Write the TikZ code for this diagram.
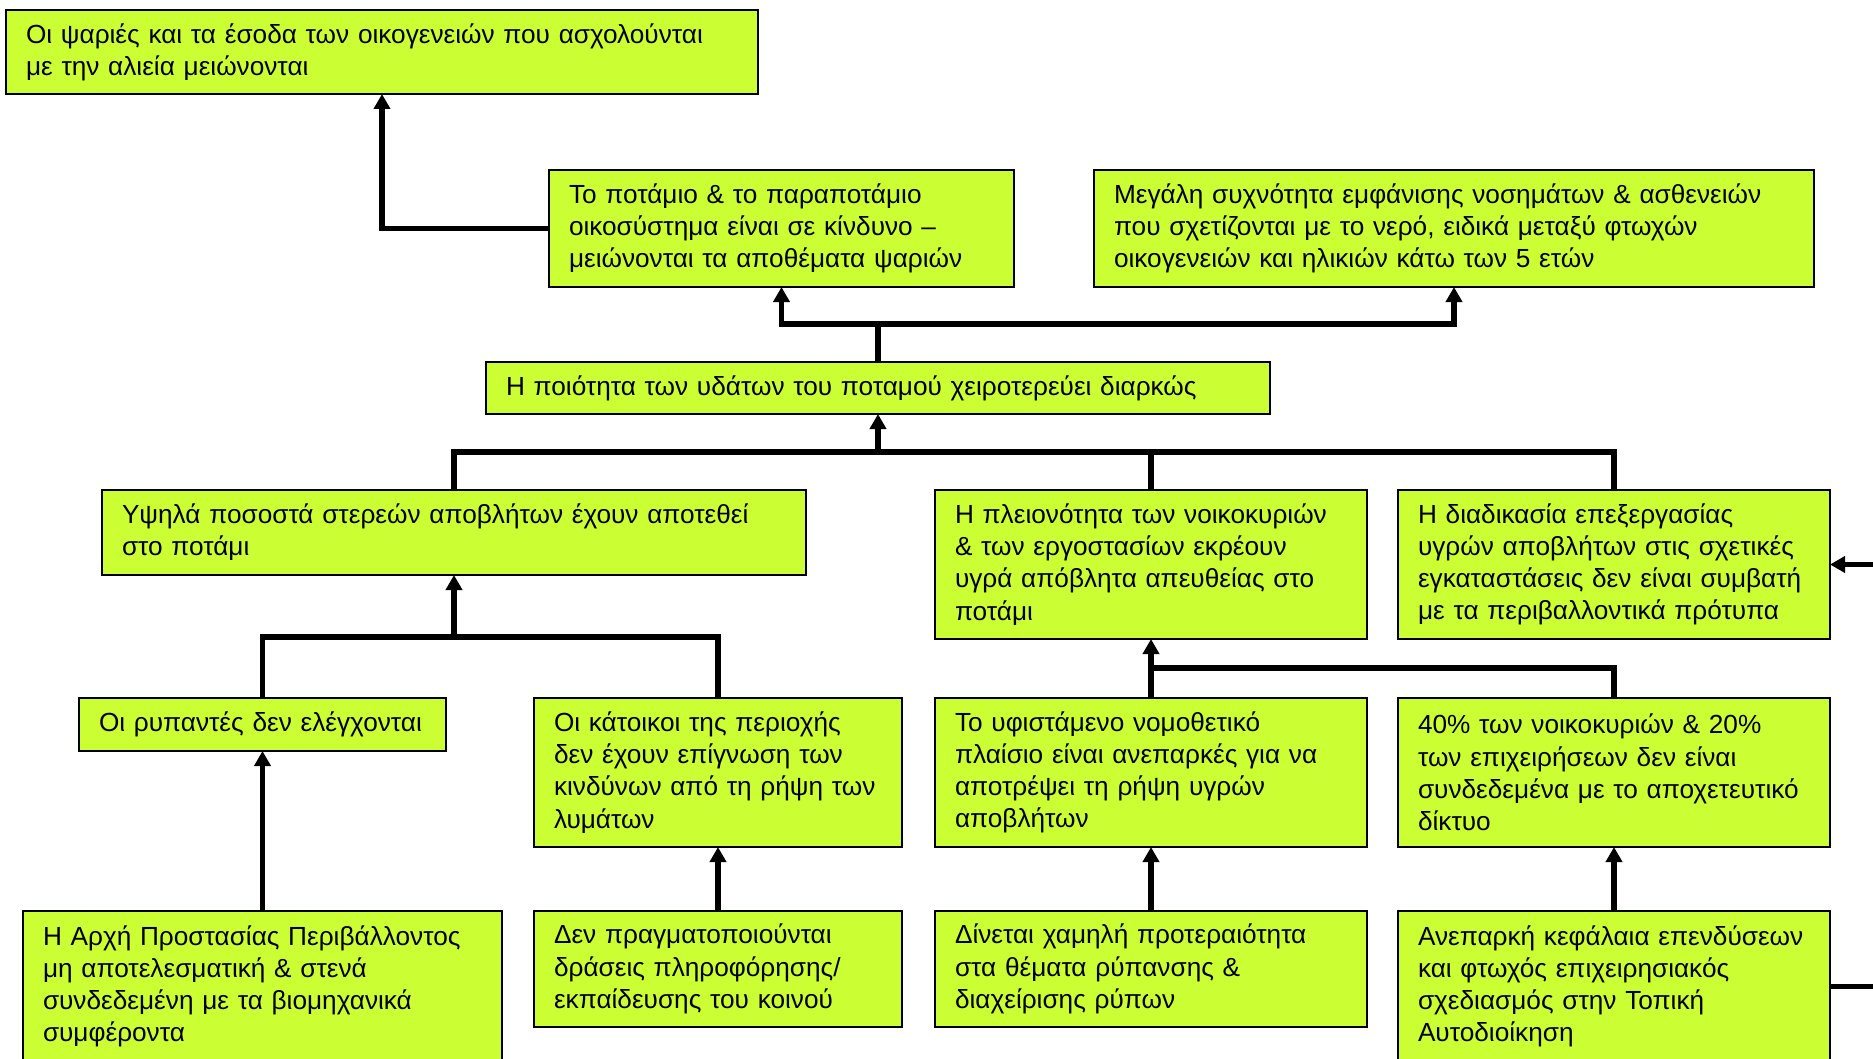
\documentclass[tikz,border=0pt]{standalone}
\usepackage{fontspec}
\setmainfont{Liberation Sans}
\usetikzlibrary{arrows.meta}
\definecolor{boxLime}{RGB}{204,255,51}

\begin{document}
\begin{tikzpicture}[x=0.5pt,y=-0.5pt,>={Triangle[length=7.5pt,width=8pt]},
    font=\fontsize{13.1pt}{16.1pt}\selectfont,
    box/.style={draw,line width=1.3pt,fill=boxLime,anchor=north west,outer sep=0pt,
        inner xsep=10pt,inner ysep=0pt,align=left},
    link/.style={line width=2.6pt}]
    \useasboundingbox[fill=white] (0,0) rectangle (1873,1059);
    % top row
    \node[box,minimum width=376pt,minimum height=42pt,text width=356pt] (fishIncome) at (6,10)
        {Οι ψαριές και τα έσοδα των οικογενειών που ασχολούνται\\με την αλιεία μειώνονται};
    \node[box,minimum width=232.5pt,minimum height=58.5pt,text width=212.5pt] (riverRisk) at (549,170)
        {Το ποτάμιο \& το παραποτάμιο\\οικοσύστημα είναι σε κίνδυνο –\\μειώνονται τα αποθέματα ψαριών};
    \node[box,minimum width=360pt,minimum height=58.5pt,text width=340pt] (diseases) at (1094,170)
        {Μεγάλη συχνότητα εμφάνισης νοσημάτων \& ασθενειών\\που σχετίζονται με το νερό, ειδικά μεταξύ φτωχών\\οικογενειών και ηλικιών κάτω των 5 ετών};
    \node[box,minimum width=392pt,minimum height=26pt,text width=372pt] (waterQuality) at (486,362)
        {Η ποιότητα των υδάτων του ποταμού χειροτερεύει διαρκώς};
    % causes
    \node[box,minimum width=352pt,minimum height=42.5pt,text width=332pt] (solidWaste) at (102,490)
        {Υψηλά ποσοστά στερεών αποβλήτων έχουν αποτεθεί\\στο ποτάμι};
    \node[box,minimum width=216pt,minimum height=74.5pt,text width=196pt] (sewageFlow) at (935,490)
        {Η πλειονότητα των νοικοκυριών\\\& των εργοστασίων εκρέουν\\υγρά απόβλητα απευθείας στο\\ποτάμι};
    \node[box,minimum width=216pt,minimum height=74.5pt,text width=196pt] (treatment) at (1398,490)
        {Η διαδικασία επεξεργασίας\\υγρών αποβλήτων στις σχετικές\\εγκαταστάσεις δεν είναι συμβατή\\με τα περιβαλλοντικά πρότυπα};
    \node[box,minimum width=183.5pt,minimum height=26.5pt,text width=163.5pt] (noControl) at (79,698)
        {Οι ρυπαντές δεν ελέγχονται};
    \node[box,minimum width=184pt,minimum height=74.5pt,text width=164pt] (residents) at (534,698)
        {Οι κάτοικοι της περιοχής\\δεν έχουν επίγνωση των\\κινδύνων από τη ρήψη των\\λυμάτων};
    \node[box,minimum width=216pt,minimum height=74.5pt,text width=196pt] (lawFrame) at (935,698)
        {Το υφιστάμενο νομοθετικό\\πλαίσιο είναι ανεπαρκές για να\\αποτρέψει τη ρήψη υγρών\\αποβλήτων};
    \node[box,minimum width=216pt,minimum height=74.5pt,text width=196pt] (unconnected) at (1398,698)
        {40\% των νοικοκυριών \& 20\%\\των επιχειρήσεων δεν είναι\\συνδεδεμένα με το αποχετευτικό\\δίκτυο};
    % root causes
    \node[box,minimum width=239.5pt,minimum height=75.5pt,text width=219.5pt] (epa) at (23,911)
        {Η Αρχή Προστασίας Περιβάλλοντος\\μη αποτελεσματική \& στενά\\συνδεδεμένη με τα βιομηχανικά\\συμφέροντα};
    \node[box,minimum width=184pt,minimum height=58pt,text width=164pt] (noInfo) at (534,911)
        {Δεν πραγματοποιούνται\\δράσεις πληροφόρησης/\\εκπαίδευσης του κοινού};
    \node[box,minimum width=216pt,minimum height=58pt,text width=196pt] (lowPriority) at (935,911)
        {Δίνεται χαμηλή προτεραιότητα\\στα θέματα ρύπανσης \&\\διαχείρισης ρύπων};
    \node[box,minimum width=216pt,minimum height=75.5pt,text width=196pt] (funding) at (1398,911)
        {Ανεπαρκή κεφάλαια επενδύσεων\\και φτωχός επιχειρησιακός\\σχεδιασμός στην Τοπική\\Αυτοδιοίκηση};
    \coordinate (topSplit) at (878,324);
    \coordinate (midBus) at (878,452);
    \coordinate (leftBus) at (454,637);
    \coordinate (rightBus) at (1150,668);
    \coordinate (edgeIn) at (1873,564.5);
    \coordinate (edgeOut) at (1873,986.5);
    \draw[link,->] (riverRisk.west) -| (fishIncome.south);
    \draw[link] (waterQuality.north) -- (topSplit);
    \draw[link,->] (topSplit) -| (riverRisk.south);
    \draw[link,->] (topSplit) -| (diseases.south);
    \draw[link,->] (midBus) -- (waterQuality.south);
    \draw[link] (midBus) -| (solidWaste.north);
    \draw[link] (midBus) -| (sewageFlow.north);
    \draw[link] (midBus) -| (treatment.north);
    \draw[link,->] (leftBus) -- (solidWaste.south);
    \draw[link] (leftBus) -| (noControl.north);
    \draw[link] (leftBus) -| (residents.north);
    \draw[link,->] (lawFrame.north) -- (sewageFlow.south);
    \draw[link] (rightBus) -| (unconnected.north);
    \draw[link,->] (epa.north) -- (noControl.south);
    \draw[link,->] (noInfo.north) -- (residents.south);
    \draw[link,->] (lowPriority.north) -- (lawFrame.south);
    \draw[link,->] (funding.north) -- (unconnected.south);
    \draw[link,->] (edgeIn) -- (treatment.east);
    \draw[link] (funding.east) -- (edgeOut);
\end{tikzpicture}
\end{document}
